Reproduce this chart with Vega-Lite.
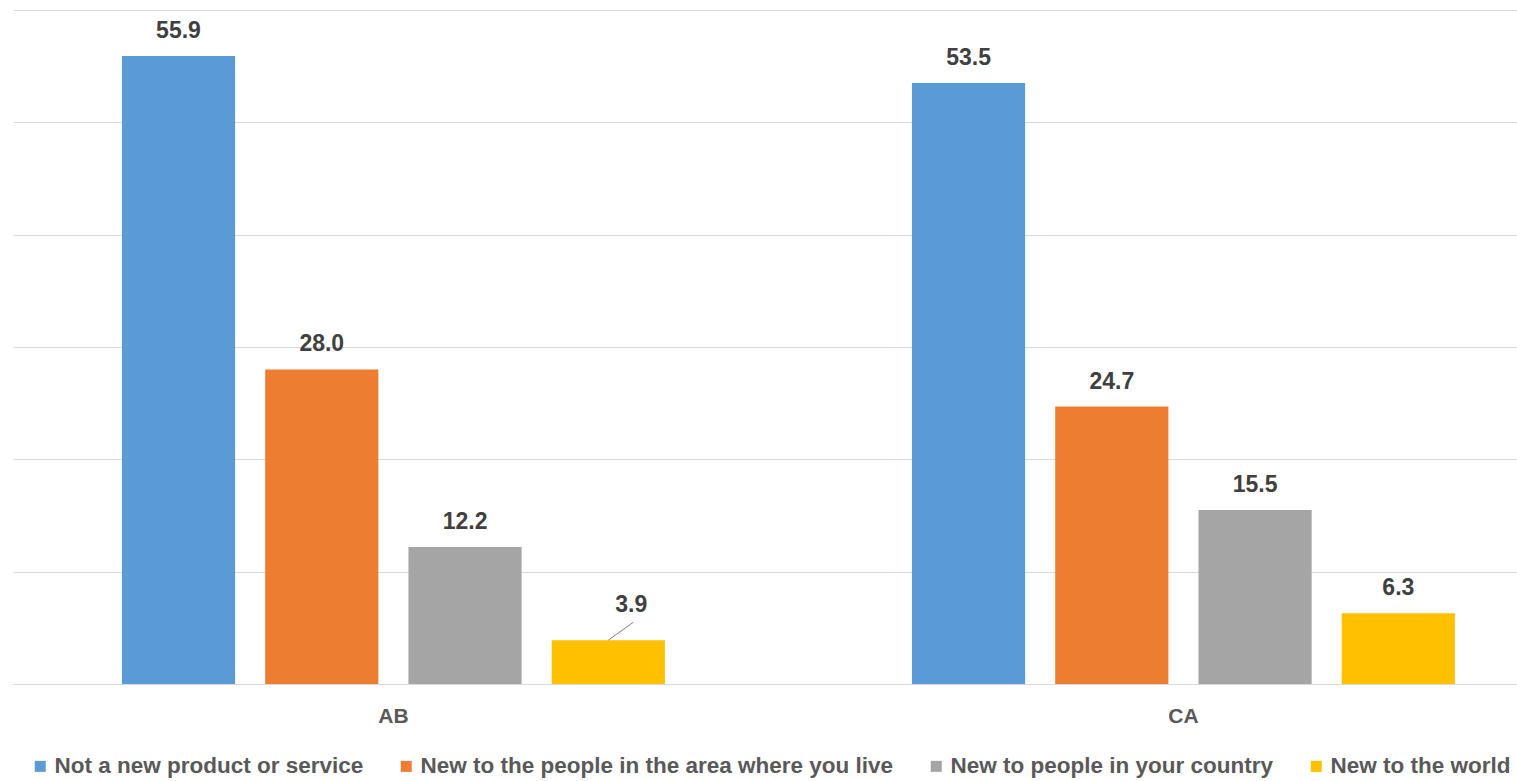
{
  "$schema": "https://vega.github.io/schema/vega-lite/v6.json",
  "width": 1504,
  "height": 674,
  "autosize": {"type": "none"},
  "padding": {"left": 13, "top": 10, "right": 0, "bottom": 97},
  "background": "white",
  "config": {
    "view": {"stroke": null},
    "font": "Liberation Sans",
    "axis": {"labelFont": "Liberation Sans", "titleFont": "Liberation Sans"},
    "legend": {"labelFont": "Liberation Sans"}
  },
  "data": {
    "values": [
      {"group": "AB", "series": "Not a new product or service", "value": 55.9},
      {"group": "AB", "series": "New to the people in the area where you live", "value": 28.0},
      {"group": "AB", "series": "New to people in your country", "value": 12.2},
      {"group": "AB", "series": "New to the world", "value": 3.9},
      {"group": "CA", "series": "Not a new product or service", "value": 53.5},
      {"group": "CA", "series": "New to the people in the area where you live", "value": 24.7},
      {"group": "CA", "series": "New to people in your country", "value": 15.5},
      {"group": "CA", "series": "New to the world", "value": 6.3}
    ]
  },
  "encoding": {
    "x": {
      "field": "group",
      "type": "nominal",
      "scale": {"paddingInner": 0.3127, "paddingOuter": 0.1082, "align": 0.637},
      "axis": {
        "title": null,
        "labelAngle": 0,
        "ticks": false,
        "domainColor": "#d9d9d9",
        "domainWidth": 1,
        "labelFontSize": 21,
        "labelFontWeight": "bold",
        "labelColor": "#595959",
        "labelPadding": 21
      }
    },
    "xOffset": {
      "field": "series",
      "type": "nominal",
      "sort": ["Not a new product or service", "New to the people in the area where you live", "New to people in your country", "New to the world"],
      "scale": {"paddingInner": 0.21, "paddingOuter": 0}
    },
    "y": {
      "field": "value",
      "type": "quantitative",
      "scale": {"domain": [0, 60], "nice": false},
      "axis": {
        "title": null,
        "labels": false,
        "ticks": false,
        "domain": false,
        "values": [0, 10, 20, 30, 40, 50, 60],
        "gridColor": "#d9d9d9",
        "gridWidth": 1
      }
    }
  },
  "layer": [
    {
      "mark": {"type": "bar"},
      "encoding": {
        "color": {
          "field": "series",
          "type": "nominal",
          "scale": {
            "domain": ["Not a new product or service", "New to the people in the area where you live", "New to people in your country", "New to the world"],
            "range": ["#5B9BD5", "#ED7D31", "#A5A5A5", "#FFC000"]
          },
          "legend": {
            "title": null,
            "orient": "bottom",
            "direction": "horizontal",
            "symbolType": "square",
            "symbolSize": 121,
            "symbolStrokeWidth": 0,
            "labelFontSize": 22.5,
            "labelFontWeight": "bold",
            "labelColor": "#595959",
            "labelOffset": 3,
            "labelLimit": 1000,
            "columnPadding": 31,
            "padding": 16,
            "offset": 13
          }
        }
      }
    },
    {
      "transform": [{"filter": "datum.value != 3.9"}],
      "mark": {"type": "text", "baseline": "alphabetic", "dy": -18, "fontSize": 23, "fontWeight": "bold", "color": "#404040"},
      "encoding": {"text": {"field": "value", "type": "quantitative", "format": ".1f"}}
    },
    {
      "transform": [{"filter": "datum.value == 3.9"}],
      "mark": {"type": "text", "baseline": "alphabetic", "dx": 23, "dy": -28, "fontSize": 23, "fontWeight": "bold", "color": "#404040"},
      "encoding": {"text": {"field": "value", "type": "quantitative", "format": ".1f"}}
    },
    {
      "transform": [{"filter": "datum.value == 3.9"}],
      "mark": {"type": "rule", "color": "#7f7f7f", "strokeWidth": 1, "x2Offset": 240, "y2Offset": -18},
      "encoding": {
        "x2": {"field": "group"},
        "y2": {"field": "value"}
      }
    }
  ]
}
